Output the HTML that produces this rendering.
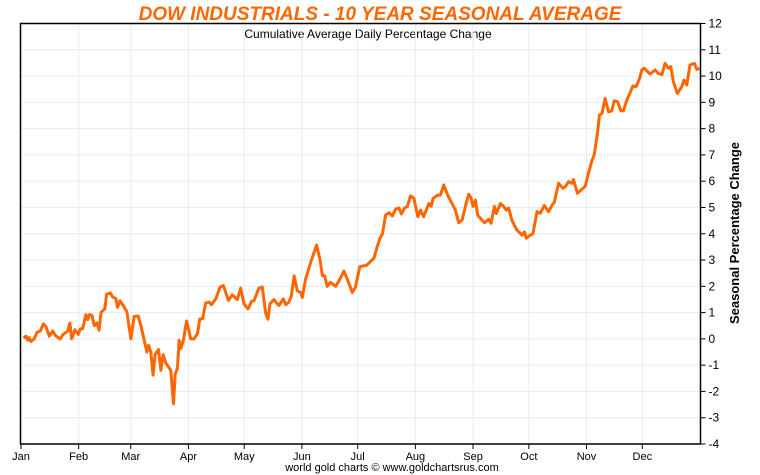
<!DOCTYPE html>
<html><head><meta charset="utf-8"><style>
body{margin:0;background:#fff;}
svg{display:block;font-family:"Liberation Sans",Arial,sans-serif;}
</style></head><body>
<svg id="chart" width="760" height="475" viewBox="0 0 760 475">
<text x="380" y="20" text-anchor="middle" font-size="19" font-weight="bold" font-style="italic" fill="#ff6600">DOW INDUSTRIALS - 10 YEAR SEASONAL AVERAGE</text>
<text x="368" y="38" text-anchor="middle" font-size="12" fill="#000">Cumulative Average Daily Percentage Change</text>
<g id="grid"></g>
<g id="axes"></g>
<path id="line" fill="none" stroke="#ff6600" stroke-width="3" stroke-linejoin="round"></path>
<text transform="translate(739,233) rotate(-90)" text-anchor="middle" font-size="13" font-weight="bold">Seasonal Percentage Change</text>
<text x="392" y="471" text-anchor="middle" font-size="11">world gold charts © www.goldchartsrus.com</text>
</svg>
<script>
const monthLabels=["Jan","Feb","Mar","Apr","May","Jun","Jul","Aug","Sep","Oct","Nov","Dec"];
const monthStartDays=[0,31,59,90,120,151,181,212,243,273,304,334];
const yTicks=[-4,-3,-2,-1,0,1,2,3,4,5,6,7,8,9,10,11,12];
const days=[1.4,2.7,3.6,4.3,5.4,7.1,8.6,10.4,12,13.4,15.2,17,18.8,21.1,22.4,25.1,26.3,27.2,29,30.8,31.8,33.1,34.9,35.8,36.7,38.1,39.4,40.8,42,43,45.1,46,48,49.2,51,51.9,53.2,54.6,56.9,59.1,60.8,63,64.4,66.2,67.7,68.6,69.8,71,72.1,73.9,75.2,76.4,77.9,79.6,80.5,82,82.9,84.1,85,85.9,87.3,89,91.3,93,94.9,96.1,97.6,99.3,101.1,102.4,104.7,107,108.8,111.5,113.6,116.3,118.1,119.9,122,123.9,125.3,127.9,129.7,131.5,132.8,133.8,136,137.8,138.7,141,142.3,144,145.3,146.8,148.5,150.3,151.2,153,155.7,158.9,160.7,162,163.2,164.6,166.4,169.1,170.9,173.6,175.4,178.1,179.8,182.1,185.7,189.7,191.2,193,194.3,196,197.8,199.6,201.4,203.2,204.5,206.2,207.7,209.4,211.2,213.3,214.8,216.5,219.2,220.5,221.6,224,225.5,227.2,229.4,231.7,233.5,235.3,237.1,239.4,240.7,242,243,244.3,245.5,247.8,249.1,251.4,252.7,254.5,255.5,257.7,259.4,260.9,262.1,263.9,266.3,268,269.3,270.6,271.6,273.8,275.2,277.4,279.1,281.3,283.6,285.4,286.7,289,291.3,292.6,294.3,296.1,297,299.1,301,303.3,305,306.9,308.1,309.9,311,312.3,314,315.8,317.6,318.9,320.7,322.5,323.9,325.7,327.5,328.9,330.7,332.5,333.7,335,336.8,338.2,340.9,342.6,344.5,346.2,348,349.3,350.7,352.8,355.2,356.4,357.9,359.6,362,363.3,364.6];
const values=[0.03,0.1,-0.05,0.05,-0.1,0,0.25,0.3,0.57,0.47,0.1,0.3,0.1,0,0.15,0.3,0.6,0,0.35,0.17,0.38,0.38,0.92,0.73,0.92,0.9,0.5,0.6,0.33,1.0,1.15,1.7,1.75,1.6,1.53,1.2,1.45,1.3,1.04,0,0.85,0.87,0.52,-0.05,-0.5,-0.25,-0.5,-1.38,-0.6,-0.4,-1.2,-0.6,-0.93,-1.1,-1.2,-2.47,-1.33,-1.13,-0.05,-0.37,-0.05,0.68,0,0,0.2,0.76,0.76,1.37,1.4,1.3,1.52,1.97,2.03,1.46,1.67,1.5,1.93,1.33,1.14,1.42,1.46,1.93,1.97,1.0,0.75,1.33,1.5,1.33,1.27,1.52,1.3,1.4,1.62,2.4,1.83,1.77,1.58,2.27,2.9,3.57,3.03,2.4,2.4,2.0,2.15,2.0,2.2,2.58,2.27,1.77,1.97,2.75,2.8,3.07,3.45,3.83,4.0,4.71,4.8,4.68,4.94,4.98,4.75,4.98,5.04,5.44,5.35,4.65,4.9,4.65,5.15,5.05,5.35,5.47,5.47,5.86,5.47,5.15,4.9,4.42,4.52,5.18,5.5,5.35,5.04,5.28,4.71,4.52,4.42,4.55,4.4,5.04,4.77,5.15,5.04,4.9,4.98,4.52,4.17,4.04,3.95,4.07,3.83,3.95,4.0,4.84,4.78,5.08,4.84,5.08,5.2,5.92,5.73,5.79,5.98,5.92,6.06,5.54,5.66,5.8,6.3,6.78,7.0,7.84,8.52,8.58,9.15,8.64,8.68,9.06,9.02,8.68,8.68,9.1,9.37,9.62,9.6,9.9,10.23,10.3,10.17,10.08,10.23,10.1,10.05,10.48,10.3,10.36,9.78,9.34,9.6,9.85,9.66,10.42,10.48,10.25,10.3];
const L=20.5,R=700.5,T=23.5,B=444;
const xs=d=>21+d*(679/365);
const ys=v=>T+(12-v)*(B-T)/16;
const NS="http://www.w3.org/2000/svg";
function mk(tag,attrs,parent){const e=document.createElementNS(NS,tag);for(const k in attrs)e.setAttribute(k,attrs[k]);parent.appendChild(e);return e;}
const grid=document.getElementById('grid'),axes=document.getElementById('axes');
yTicks.forEach(v=>{
  const y=ys(v);
  const g=mk('line',{x1:L,x2:R,y1:y,y2:y,stroke:'#e3eef7','stroke-width':1},grid);
  
  
  const t=mk('line',{x1:R,x2:R+5,y1:y,y2:y,stroke:'#000','stroke-width':1},axes);
  
  
  const lb=mk('text',{x:R+8,y:y+4,'font-size':12},axes);
  lb.textContent=v;
  
  
});
monthStartDays.forEach((d,i)=>{
  const x=xs(d);
  if(i>0){const g=mk('line',{x1:x,x2:x,y1:T,y2:B,stroke:'#e3eef7','stroke-width':1},grid);
  
  }
  const t=mk('line',{x1:x,x2:x,y1:B,y2:B+5,stroke:'#000','stroke-width':1},axes);
  
  
  const lb=mk('text',{x:x,y:B+16,'font-size':11,'text-anchor':'middle'},axes);
  lb.textContent=monthLabels[i];
  
  
});
const fr=mk('rect',{x:L,y:T,width:R-L,height:B-T,fill:'none',stroke:'#000','stroke-width':1.5},axes);


document.getElementById('line').setAttribute('d',days.map((d,i)=>(i?'L':'M')+xs(d).toFixed(1)+','+ys(values[i]).toFixed(1)).join(''));
</script>
</body></html>
